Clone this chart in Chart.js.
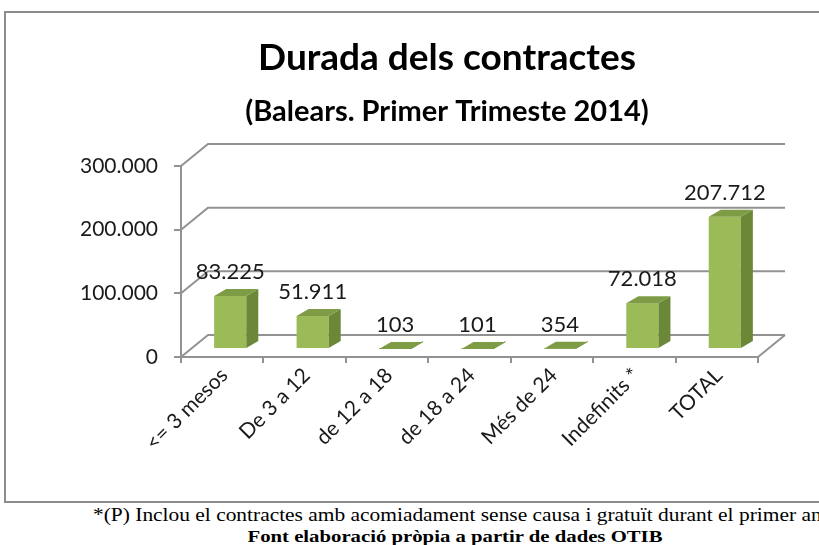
<!DOCTYPE html>
<html>
<head>
<meta charset="utf-8">
<script src="https://cdn.jsdelivr.net/npm/chart.js@4.4.1/dist/chart.umd.min.js"></script>
<style>
  html, body { margin: 0; padding: 0; background: #fff; overflow: hidden; width: 819px; height: 545px; }
  #frame { position: absolute; left: 4px; top: 11px; width: 882px; height: 488px;
           border-left: 2px solid #8c8c8c; border-top: 2px solid #8c8c8c; border-bottom: 2px solid #8c8c8c; }
  #frame canvas { position: absolute; left: 0; top: 0; }
  .note1 { position: absolute; left: 93px; top: 505px; white-space: nowrap; transform: scaleX(1.19); transform-origin: 0 0;
           font-family: "Liberation Serif", "DejaVu Serif", serif; font-size: 18px; color: #000; }
  .note2 { position: absolute; left: 455px; top: 527px; white-space: nowrap; transform: translateX(-50%) scaleX(1.22); transform-origin: 50% 0;
           font-family: "Liberation Serif", "DejaVu Serif", serif; font-size: 17px; font-weight: bold; color: #000; }
</style>
</head>
<body>
<div id="frame"><canvas id="c" width="882" height="488"></canvas></div>
<div class="note1">*(P) Inclou el contractes amb acomiadament sense causa i gratuït durant el primer any</div>
<div class="note2">Font elaboració pròpia a partir de dades OTIB</div>
<script>
// ---- data ----
const categories = ['<= 3 mesos', 'De 3 a 12', 'de 12 a 18', 'de 18 a 24', 'Més de 24', 'Indefinits *', 'TOTAL'];
const contractes = [83225, 51911, 103, 101, 354, 72018, 207712];
const yTicks = [0, 100000, 200000, 300000];
const titleText = 'Durada dels contractes';
const subtitleText = '(Balears. Primer Trimeste 2014)';

function fmt(v) { return String(v).replace(/\B(?=(\d{3})+(?!\d))/g, '.'); }

// 3D look parameters
const WALL_DX = 27, WALL_DY = -22;   // depth of floor / side wall
const BAR_OX = 8, BAR_OY = -8;       // bar position inside the depth
const BAR_DX = 12, BAR_DY = -7;      // bar box depth
const GRID = '#929292';
const FRONT = '#9bbb59', SIDE = '#6a8837', TOP = '#7e9c46';
const FONT = 'Lato, "Open Sans", sans-serif';

const threeD = {
  id: 'threeD',
  beforeDatasetsDraw(chart) {
    const {ctx, chartArea: a, scales: {y}} = chart;
    ctx.save();
    ctx.strokeStyle = GRID; ctx.lineWidth = 2;
    yTicks.forEach(v => {
      const py = y.getPixelForValue(v);
      ctx.beginPath();
      ctx.moveTo(a.left, py);
      ctx.lineTo(a.left + WALL_DX, py + WALL_DY);
      ctx.lineTo(a.right + WALL_DX, py + WALL_DY);
      ctx.stroke();
    });
    const p0 = y.getPixelForValue(0);
    ctx.beginPath();
    ctx.moveTo(a.right, p0);
    ctx.lineTo(a.right + WALL_DX, p0 + WALL_DY);
    ctx.stroke();
    ctx.restore();
  },
  afterDatasetsDraw(chart) {
    const {ctx} = chart;
    const meta = chart.getDatasetMeta(0);
    ctx.save();
    meta.data.forEach((bar, i) => {
      const w = bar.width;
      const x0 = bar.x - w / 2 + BAR_OX, x1 = bar.x + w / 2 + BAR_OX;
      const top = bar.y + BAR_OY, bot = bar.base + BAR_OY;
      ctx.fillStyle = FRONT;
      ctx.fillRect(x0, top, x1 - x0, bot - top);
      ctx.fillStyle = SIDE;
      ctx.beginPath();
      ctx.moveTo(x1, top); ctx.lineTo(x1 + BAR_DX, top + BAR_DY);
      ctx.lineTo(x1 + BAR_DX, bot + BAR_DY); ctx.lineTo(x1, bot); ctx.closePath(); ctx.fill();
      ctx.fillStyle = TOP;
      ctx.beginPath();
      ctx.moveTo(x0, top); ctx.lineTo(x0 + BAR_DX, top + BAR_DY);
      ctx.lineTo(x1 + BAR_DX, top + BAR_DY); ctx.lineTo(x1, top); ctx.closePath(); ctx.fill();
      ctx.fillStyle = '#1a1a1a';
      ctx.font = '22px ' + FONT;
      ctx.textAlign = 'center'; ctx.textBaseline = 'middle';
      ctx.fillText(fmt(contractes[i]), (x0 + x1) / 2, top - 24);
    });
    ctx.restore();
  }
};

new Chart(document.getElementById('c'), {
  type: 'bar',
  data: {
    labels: categories,
    datasets: [{ data: contractes, backgroundColor: 'rgba(0,0,0,0)', borderWidth: 0,
                 categoryPercentage: 1, barPercentage: 0.39 }]
  },
  options: {
    responsive: false,
    animation: false,
    events: [],
    layout: { padding: 0 },
    plugins: {
      legend: { display: false },
      tooltip: { enabled: false },
      title: { display: true, text: titleText, color: '#000',
               font: { family: FONT, size: 37, weight: 'bold', lineHeight: 1.2 },
               padding: { top: 22.8, bottom: 0 } },
      subtitle: { display: true, text: subtitleText, color: '#000',
               font: { family: FONT, size: 29, weight: 'bold', lineHeight: 1.2 },
               padding: { top: 14.4, bottom: 36.6 } }
    },
    scales: {
      x: {
        grid: { display: true, offset: true, drawOnChartArea: false, drawTicks: true, tickLength: 6, color: GRID, lineWidth: 2 },
        border: { display: true, color: GRID, width: 2 },
        ticks: { minRotation: 45, maxRotation: 45, color: '#1a1a1a', padding: 0, labelOffset: 2,
                 font: { family: FONT, size: 21 } },
        afterFit(s) { s.height = 144; }
      },
      y: {
        min: 0, max: 300000,
        afterBuildTicks(s) { s.ticks = yTicks.map(v => ({ value: v })); },
        grid: { display: true, drawOnChartArea: false, drawTicks: true, tickLength: 7, color: GRID, lineWidth: 2 },
        border: { display: true, color: GRID, width: 2 },
        ticks: { color: '#1a1a1a', padding: 16, callback: v => fmt(v),
                 font: { family: FONT, size: 21 } },
        afterFit(s) { s.width = 175; }
      },
      spacer: {
        type: 'linear', position: 'right', display: true,
        grid: { display: false }, border: { display: false }, ticks: { display: false },
        afterFit(s) { s.width = 130; }
      }
    }
  },
  plugins: [threeD]
});
</script>
</body>
</html>
